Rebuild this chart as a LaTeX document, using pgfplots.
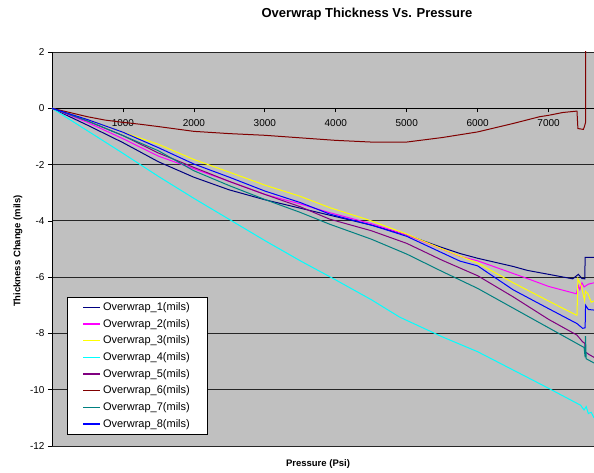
\documentclass[border=0pt]{standalone}
\usepackage{pgfplots}
\pgfplotsset{compat=1.18}
\usepackage{fontspec}
\setmainfont{Liberation Sans}
\definecolor{plotbg}{HTML}{C0C0C0}
\definecolor{cNavy}{HTML}{000080}
\definecolor{cMag}{HTML}{FF00FF}
\definecolor{cYel}{HTML}{FFFF00}
\definecolor{cCyan}{HTML}{00FFFF}
\definecolor{cPurp}{HTML}{800080}
\definecolor{cRed}{HTML}{800000}
\definecolor{cTeal}{HTML}{008080}
\definecolor{cBlue}{HTML}{0000FF}
\begin{document}
\begin{tikzpicture}
\useasboundingbox (-52pt,-27pt) rectangle (542pt,446pt);
\begin{axis}[
  at={(0pt,0pt)}, anchor=south west,
  scale only axis, width=542pt, height=394pt,
  xmin=0, xmax=7640, ymin=-12, ymax=2,
  axis background/.style={fill=plotbg},
  axis x line=middle, axis y line=left,
  axis line style={-, black, line width=0.8pt},
  xtick={0,1000,...,7000}, ytick={-12,-10,...,2},
  tick align=outside, major tick length=4pt,
  tick style={black, line width=0.7pt},
  ymajorgrids, grid style={black!85, line width=0.9pt},
  /pgf/number format/assume math mode=true,
  /pgf/number format/1000 sep={},
  tick label style={font=\fontsize{10}{12}\selectfont},
  xticklabel style={yshift=-4pt},
  clip=true,
  legend cell align=left,
  legend image post style={line width=1.5pt},
  legend style={at={(0.0282,0.0305)}, anchor=south west, fill=white,
    font=\fontsize{11}{13}\selectfont, row sep=3.2pt, inner xsep=15pt, inner ysep=3pt},
  every axis plot/.append style={line width=1pt},
]
\addplot[color=cNavy] coordinates {(0,0)(500,-0.6)(1000,-1.22)(1500,-1.9)(2000,-2.45)(2500,-2.9)(3000,-3.25)(3500,-3.55)(4000,-3.85)(4500,-4.15)(5000,-4.5)(5500,-4.95)(5750,-5.16)(6000,-5.33)(6500,-5.62)(6700,-5.76)(7000,-5.9)(7340,-6.06)(7420,-5.9)(7470,-6.05)(7510,-6.06)(7515,-5.3)(7640,-5.3)};
\addlegendentry{Overwrap\_1(mils)}
\addplot[color=cMag] coordinates {(0,0)(500,-0.5)(1000,-1.08)(1500,-1.7)(2000,-2.15)(2500,-2.6)(3000,-3.06)(3500,-3.4)(3915,-3.71)(4500,-4.1)(5000,-4.5)(5750,-5.26)(6000,-5.42)(6700,-6.05)(7000,-6.33)(7390,-6.59)(7420,-6.3)(7440,-6.45)(7470,-6.2)(7500,-6.35)(7560,-6.25)(7640,-6.2)};
\addlegendentry{Overwrap\_2(mils)}
\addplot[color=cYel] coordinates {(0,0)(500,-0.4)(1000,-0.85)(1500,-1.28)(2000,-1.82)(2500,-2.27)(3000,-2.73)(3500,-3.13)(3915,-3.53)(4500,-4.0)(5000,-4.47)(5500,-5.0)(6000,-5.5)(6500,-6.2)(7000,-6.85)(7400,-7.36)(7413,-6.06)(7460,-6.3)(7507,-6.83)(7520,-6.5)(7554,-6.59)(7601,-6.89)(7640,-6.85)};
\addlegendentry{Overwrap\_3(mils)}
\addplot[color=cCyan] coordinates {(0,0)(500,-0.8)(1000,-1.6)(1500,-2.42)(2000,-3.2)(2500,-3.95)(3000,-4.7)(3500,-5.42)(4000,-6.1)(4500,-6.8)(4900,-7.42)(5500,-8.12)(6000,-8.65)(6500,-9.3)(7000,-9.95)(7300,-10.35)(7450,-10.55)(7500,-10.72)(7530,-10.6)(7560,-10.85)(7600,-10.8)(7640,-11.0)};
\addlegendentry{Overwrap\_4(mils)}
\addplot[color=cPurp] coordinates {(0,0)(500,-0.45)(1000,-0.97)(1500,-1.59)(2000,-2.1)(2500,-2.6)(3000,-3.06)(3500,-3.5)(3915,-3.94)(4500,-4.35)(5000,-4.8)(5500,-5.4)(6000,-5.95)(6500,-6.7)(7000,-7.5)(7400,-8.06)(7480,-8.3)(7510,-8.35)(7515,-8.65)(7570,-8.75)(7640,-8.85)};
\addlegendentry{Overwrap\_5(mils)}
\addplot[color=cRed] coordinates {(0,0)(250,-0.15)(500,-0.3)(750,-0.42)(1000,-0.5)(1250,-0.57)(1500,-0.65)(2000,-0.82)(2500,-0.9)(3000,-0.96)(3500,-1.05)(4000,-1.14)(4500,-1.2)(5000,-1.2)(5500,-1.04)(6000,-0.84)(6500,-0.54)(6873,-0.3)(7000,-0.25)(7200,-0.15)(7400,-0.1)(7413,-0.72)(7490,-0.75)(7505,-0.65)(7521,-0.5)(7522,6)};
\addlegendentry{Overwrap\_6(mils)}
\addplot[color=cTeal] coordinates {(0,0)(500,-0.45)(1000,-0.97)(1500,-1.51)(2000,-2.22)(2500,-2.75)(3000,-3.24)(3500,-3.7)(3915,-4.12)(4500,-4.65)(5000,-5.18)(5500,-5.8)(6000,-6.4)(6500,-7.1)(7000,-7.8)(7400,-8.36)(7500,-8.5)(7515,-8.85)(7520,-8.1)(7530,-8.9)(7640,-9.05)};
\addlegendentry{Overwrap\_7(mils)}
\addplot[color=cBlue] coordinates {(0,0)(500,-0.4)(1000,-0.85)(1500,-1.4)(2000,-1.98)(2500,-2.45)(3000,-2.94)(3500,-3.35)(3915,-3.76)(4500,-4.15)(5000,-4.55)(5750,-5.43)(6000,-5.6)(6500,-6.45)(7000,-7.12)(7400,-7.65)(7480,-7.82)(7515,-7.8)(7521,-7.0)(7560,-7.15)(7640,-7.17)};
\addlegendentry{Overwrap\_8(mils)}
\end{axis}
\node[font=\fontsize{13}{15}\selectfont\bfseries] at (315pt,432pt) {Overwrap Thickness Vs. Pressure};
\node[font=\fontsize{9.5}{11}\selectfont\bfseries, rotate=90] at (-34pt,195pt) {Thickness Change (mils)};
\node[font=\fontsize{9.5}{11}\selectfont\bfseries] at (266pt,-18pt) {Pressure (Psi)};
\end{tikzpicture}
\end{document}
